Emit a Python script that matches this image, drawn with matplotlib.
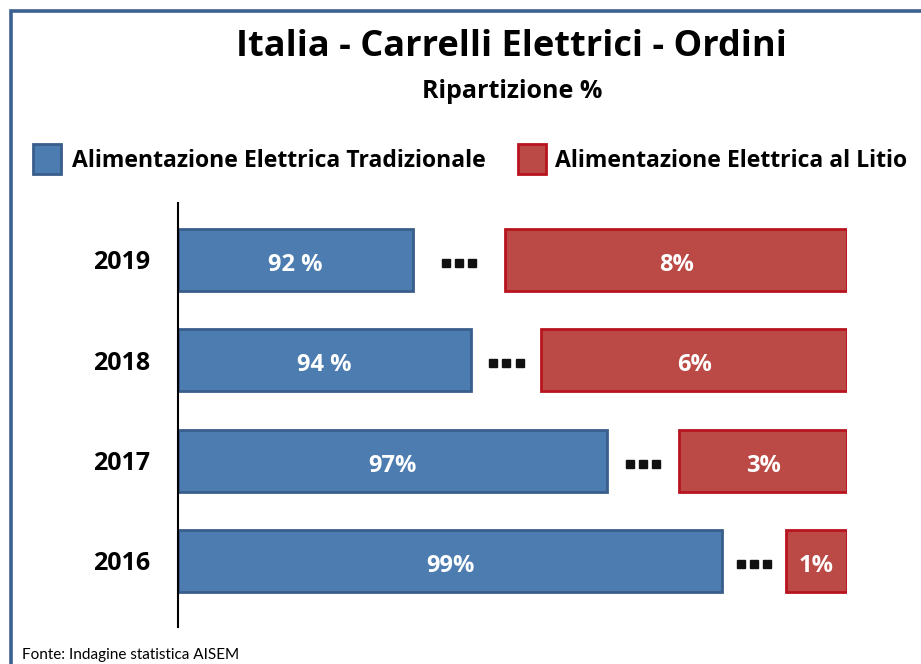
import matplotlib
matplotlib.use("Agg")
import matplotlib.pyplot as plt
from matplotlib.patches import Rectangle

plt.rcParams['font.family'] = ['Open Sans', 'DejaVu Sans']

# ---- data ----
years = ["2016", "2017", "2018", "2019"]
trad_pct = [99, 97, 94, 92]
litio_pct = [1, 3, 6, 8]
trad_labels = ["99%", "97%", "94 %", "92 %"]
litio_labels = ["1%", "3%", "6%", "8%"]
# displayed (broken-axis) lengths, in axis units (0..100)
trad_len = [81.3, 64.1, 43.8, 35.1]
litio_start = [90.9, 74.9, 54.3, 48.9]
litio_len = [9.1, 25.1, 45.7, 51.1]
series_names = ["Alimentazione Elettrica Tradizionale", "Alimentazione Elettrica al Litio"]

blue_fill, blue_edge = "#4c7cb0", "#3a5e8c"
red_fill, red_edge = "#bb4a46", "#b8141f"

W, H = 921, 664
fig = plt.figure(figsize=(W / 100, H / 100), dpi=100)
fig.patch.set_facecolor("white")

# frame
fig.patches.append(Rectangle((11 / W, -0.1), 1.2, 1 - 11 / H + 0.1, transform=fig.transFigure,
                             fill=False, edgecolor="#3c6190", linewidth=2.6))

ax = fig.add_axes([178 / W, (H - 627) / H, (847 - 178) / W, (627 - 203) / H])
ax.set_xlim(0, 100)
ax.set_ylim(-0.658, 3.568)
ypos = list(range(len(years)))

ax.barh(ypos, trad_len, height=0.62, left=0, color=blue_fill, edgecolor=blue_edge, linewidth=2)
ax.barh(ypos, litio_len, height=0.62, left=litio_start, color=red_fill, edgecolor=red_edge, linewidth=2)

for i, y in enumerate(ypos):
    ax.text(trad_len[i] / 2, y - 0.02, trad_labels[i], ha="center", va="center_baseline", color="white",
            fontsize=17, fontweight="bold")
    ax.text(litio_start[i] + litio_len[i] / 2, y - 0.02, litio_labels[i], ha="center",
            va="center_baseline", color="white", fontsize=17, fontweight="bold")
    mid = (trad_len[i] + litio_start[i]) / 2
    ax.plot([mid - 2.0, mid, mid + 2.0], [y - 0.03] * 3, linestyle="none", marker="s",
            markersize=6.3, color="#111111")

ax.set_yticks(ypos)
ax.set_yticklabels(years, fontsize=18, fontweight="bold")
ax.tick_params(axis="y", length=0, pad=20)
ax.set_xticks([])
for s in ["top", "right", "bottom"]:
    ax.spines[s].set_visible(False)
ax.spines["left"].set_linewidth(1.5)
ax.spines["left"].set_color("black")

# titles
fig.text(511 / W, 1 - 47 / H, "Italia - Carrelli Elettrici - Ordini", ha="center", va="center",
         fontsize=26, fontweight="bold")
fig.text(512 / W, 1 - 92 / H, "Ripartizione %", ha="center", va="center",
         fontsize=18, fontweight="bold")

# legend
fig.patches.append(Rectangle((33 / W, 1 - 174 / H), 28 / W, 30 / H, transform=fig.transFigure,
                             facecolor=blue_fill, edgecolor=blue_edge, linewidth=2))
fig.text(72 / W, 1 - 161 / H, series_names[0], ha="left", va="center", fontsize=16.6, fontweight="bold")
fig.patches.append(Rectangle((518 / W, 1 - 174 / H), 28 / W, 30 / H, transform=fig.transFigure,
                             facecolor=red_fill, edgecolor=red_edge, linewidth=2))
fig.text(555 / W, 1 - 161 / H, series_names[1], ha="left", va="center", fontsize=16.6, fontweight="bold")

fig.text(22 / W, 1 - 655 / H, "Fonte: Indagine statistica AISEM", ha="left", va="center",
         fontsize=11, family=["Liberation Sans Narrow", "Lato", "DejaVu Sans"])

fig.savefig("out.png", dpi=100)
